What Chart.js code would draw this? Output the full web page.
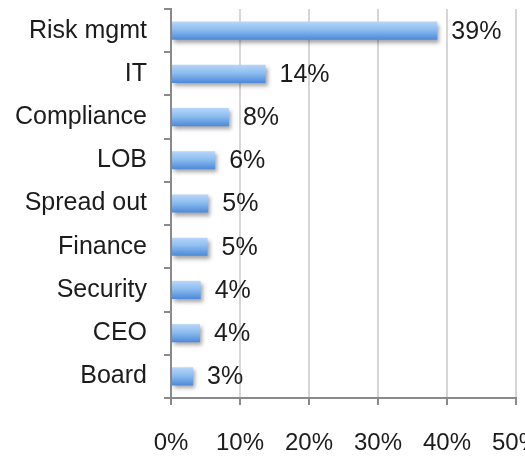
<!DOCTYPE html>
<html>
<head>
<meta charset="utf-8">
<title>Ownership chart</title>
<script src="https://cdn.jsdelivr.net/npm/chart.js@4/dist/chart.umd.min.js"></script>
<style>
    html, body{ margin: 0; padding: 0; background: #ffffff; overflow: hidden; }
    /* container is a bit wider than the window so the "50%" label gets cut like in the original */
    .chart-container{ position: relative; width: 540px; height: 457px; }
</style>
</head>
<body>
<div class="chart-container">
    <canvas id="myChart"></canvas>
</div>
<script>
// DATA
const categories= ["Risk mgmt","IT","Compliance","LOB","Spread out","Finance","Security","CEO","Board"];
const shares= [38.6, 13.7, 8.4, 6.4, 5.4, 5.3, 4.3, 4.2, 3.2];   // percent of respondents
const axisTicks= [0, 10, 20, 30, 40, 50];

// STYLING
const fontFamily= "'Liberation Sans', Arial, sans-serif";
const textColor= "#1c1c1c";
const axisColor= "#8a8a8a";
const gridColor= "#d6d6d6";

const barGradient= function(context){
    // vertical gradient for each bar (light top -> darker bottom)
    const chart= context.chart;
    const yScale= chart.scales.y;
    if(!chart.chartArea || !yScale)
        return "#7fb2ec";
    const center= yScale.getPixelForValue(context.dataIndex);
    const half= 9;
    const gradient= chart.ctx.createLinearGradient(0, center-half, 0, center+half);
    gradient.addColorStop(0, "#b7d6f8");
    gradient.addColorStop(0.45, "#8dbdf0");
    gradient.addColorStop(1, "#4c89d8");
    return gradient;
};

// plugin to give the bars a soft drop shadow
const barShadow= {
    id: 'barShadow',
    beforeDatasetsDraw(chart){
        const ctx= chart.ctx;
        ctx.save();
        ctx.shadowColor= "rgba(0, 0, 0, 0.35)";
        ctx.shadowBlur= 4;
        ctx.shadowOffsetX= 2;
        ctx.shadowOffsetY= 3;
    },
    afterDatasetsDraw(chart){
        chart.ctx.restore();
    }
};

// plugin to write the value next to each bar
const valueLabels= {
    id: 'valueLabels',
    afterDatasetsDraw(chart){
        const ctx= chart.ctx;
        const meta= chart.getDatasetMeta(0);
        ctx.save();
        ctx.font= `25px ${fontFamily}`;
        ctx.fillStyle= textColor;
        ctx.textAlign= 'left';
        ctx.textBaseline= 'middle';
        meta.data.forEach((bar, idx)=>{
            ctx.fillText(`${Math.round(shares[idx])}%`, bar.x + 14, bar.y + 1);
        });
        ctx.restore();
    }
};

const canvasElement= document.getElementById('myChart');

new Chart(canvasElement, {
    type: 'bar',
    data: {
        labels: categories,
        datasets: [{
            data: shares,
            backgroundColor: barGradient,
            borderWidth: 0,
            categoryPercentage: 1,
            barPercentage: 0.42,
        }],
    },
    options: {
        indexAxis: 'y',
        responsive: true,
        maintainAspectRatio: false,
        animation: false,
        layout: {
            padding: { left: 15, top: 9, right: 24, bottom: 4 }
        },
        scales: {
            x: {
                min: 0,
                max: 50,
                afterBuildTicks: (scale)=>{ scale.ticks= axisTicks.map(v => ({ value: v })); },
                // fixed axis size, no extra label padding (keeps the plot where the original has it)
                afterFit: (scale)=>{
                    scale.height= 55;
                    scale.paddingLeft= 0;
                    scale.paddingRight= 0;
                },
                ticks: {
                    callback: (value)=> `${value}%`,
                    color: textColor,
                    font: { family: fontFamily, size: 24 },
                    padding: 24,
                    maxRotation: 0,
                },
                grid: {
                    color: (ctx)=> (ctx.tick && ctx.tick.value===0)? axisColor : gridColor,
                    lineWidth: 2,
                    tickColor: axisColor,
                    tickLength: 7,
                },
                border: { display: true, color: axisColor, width: 2 },
            },
            y: {
                afterFit: (scale)=>{
                    scale.width= 156;
                    scale.paddingTop= 0;
                    scale.paddingBottom= 0;
                },
                ticks: {
                    color: textColor,
                    font: { family: fontFamily, size: 25 },
                    padding: 17,
                },
                grid: {
                    offset: true,
                    drawOnChartArea: false,
                    color: axisColor,
                    lineWidth: 2,
                    tickLength: 7,
                },
                border: { display: true, color: axisColor, width: 2 },
            }
        },
        plugins: {
            legend: { display: false },
            tooltip: { enabled: false },
        },
    },
    plugins: [barShadow, valueLabels],
});
</script>
</body>
</html>
